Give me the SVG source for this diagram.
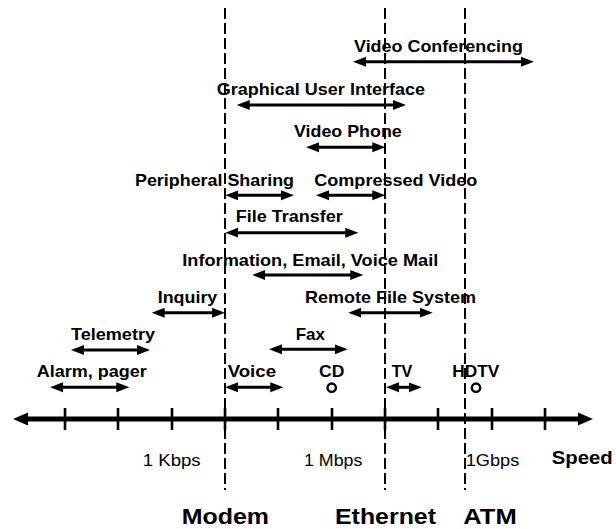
<svg xmlns="http://www.w3.org/2000/svg" width="616" height="529" viewBox="0 0 616 529">
  <style>
    .lbl { font-family: "Liberation Sans", Arial, sans-serif; font-weight: bold; font-size: 17px; fill: #000; }
    .rate { font-family: "Liberation Sans", Arial, sans-serif; font-size: 16.5px; fill: #000; }
    .big { font-family: "Liberation Sans", Arial, sans-serif; font-weight: bold; font-size: 22px; fill: #000; }
    .span { stroke: #000; stroke-width: 3; fill: none; marker-start: url(#head); marker-end: url(#head); }
    .net { stroke: #000; stroke-width: 2; stroke-dasharray: 11 4; fill: none; }
    .tick { stroke: #000; stroke-width: 2.6; }
    .pt { fill: #fff; stroke: #000; stroke-width: 2.4; }
  </style>
  <defs>
    <marker id="head" markerUnits="userSpaceOnUse" markerWidth="14" markerHeight="12" refX="5" refY="6" orient="auto-start-reverse">
      <path d="M0,1 L13,6 L0,11 z" fill="#000"/>
    </marker>
    <marker id="axisHead" markerUnits="userSpaceOnUse" markerWidth="16" markerHeight="14" refX="5" refY="7" orient="auto-start-reverse">
      <path d="M0,0.5 L15,7 L0,13.5 z" fill="#000"/>
    </marker>
  </defs>

  <!-- network boundaries -->
  <g id="boundaries">
    <line class="net" x1="225" y1="8" x2="225" y2="490"/>
    <line class="net" x1="385" y1="8" x2="385" y2="490"/>
    <line class="net" x1="465" y1="8" x2="465" y2="490"/>
  </g>

  <!-- speed axis -->
  <g id="axis">
    <line x1="23" y1="419" x2="583" y2="419" stroke="#000" stroke-width="5" marker-start="url(#axisHead)" marker-end="url(#axisHead)"/>
    <line class="tick" x1="65" y1="408" x2="65" y2="430"/>
    <line class="tick" x1="118" y1="408" x2="118" y2="430"/>
    <line class="tick" x1="172" y1="408" x2="172" y2="430"/>
    <line class="tick" x1="225" y1="408" x2="225" y2="430"/>
    <line class="tick" x1="278" y1="408" x2="278" y2="430"/>
    <line class="tick" x1="332" y1="408" x2="332" y2="430"/>
    <line class="tick" x1="385" y1="408" x2="385" y2="430"/>
    <line class="tick" x1="438" y1="408" x2="438" y2="430"/>
    <line class="tick" x1="492" y1="408" x2="492" y2="430"/>
    <line class="tick" x1="545" y1="408" x2="545" y2="430"/>
    <text class="rate" x="142.7" y="465.5" textLength="58" lengthAdjust="spacingAndGlyphs">1 Kbps</text>
    <text class="rate" x="304" y="465.5" textLength="58.3" lengthAdjust="spacingAndGlyphs">1 Mbps</text>
    <text class="rate" x="465.7" y="465.5" textLength="53.6" lengthAdjust="spacingAndGlyphs">1Gbps</text>
    <text class="lbl" x="551.7" y="464.3" style="font-size:17.5px" textLength="61" lengthAdjust="spacingAndGlyphs">Speed</text>
  </g>

  <!-- network names -->
  <g id="modem"><text class="big" x="181.7" y="524" textLength="87.3" lengthAdjust="spacingAndGlyphs">Modem</text></g>
  <g id="ethernet"><text class="big" x="335" y="524" textLength="101" lengthAdjust="spacingAndGlyphs">Ethernet</text></g>
  <g id="atm"><text class="big" x="463.3" y="524" textLength="53.4" lengthAdjust="spacingAndGlyphs">ATM</text></g>

  <!-- applications -->
  <g id="video-conferencing">
    <text class="lbl" x="354" y="52" textLength="169" lengthAdjust="spacingAndGlyphs">Video Conferencing</text>
    <line class="span" x1="361" y1="61.7" x2="526" y2="61.7"/>
  </g>
  <g id="gui">
    <text class="lbl" x="216.7" y="95" textLength="208.3" lengthAdjust="spacingAndGlyphs">Graphical User Interface</text>
    <line class="span" x1="244.7" y1="105" x2="398" y2="105"/>
  </g>
  <g id="video-phone">
    <text class="lbl" x="294" y="137.3" textLength="107.7" lengthAdjust="spacingAndGlyphs">Video Phone</text>
    <line class="span" x1="314" y1="147.3" x2="377.3" y2="147.3"/>
  </g>
  <g id="peripheral-sharing">
    <text class="lbl" x="135" y="186" textLength="159" lengthAdjust="spacingAndGlyphs">Peripheral Sharing</text>
    <line class="span" x1="233.3" y1="195.3" x2="286" y2="195.3"/>
  </g>
  <g id="compressed-video">
    <text class="lbl" x="314.3" y="186" textLength="163" lengthAdjust="spacingAndGlyphs">Compressed Video</text>
    <line class="span" x1="324" y1="195.3" x2="377.3" y2="195.3"/>
  </g>
  <g id="file-transfer">
    <text class="lbl" x="235.7" y="222.3" textLength="107" lengthAdjust="spacingAndGlyphs">File Transfer</text>
    <line class="span" x1="233.3" y1="232.7" x2="350.3" y2="232.7"/>
  </g>
  <g id="information">
    <text class="lbl" x="182.3" y="266" textLength="256" lengthAdjust="spacingAndGlyphs">Information, Email, Voice Mail</text>
    <line class="span" x1="260.3" y1="275" x2="355.3" y2="275"/>
  </g>
  <g id="inquiry">
    <text class="lbl" x="157.7" y="303.3" textLength="59.6" lengthAdjust="spacingAndGlyphs">Inquiry</text>
    <line class="span" x1="159.7" y1="312.7" x2="217" y2="312.7"/>
  </g>
  <g id="remote-file-system">
    <text class="lbl" x="305" y="302.7" textLength="171" lengthAdjust="spacingAndGlyphs">Remote File System</text>
    <line class="span" x1="356.3" y1="312.7" x2="424.7" y2="312.7"/>
  </g>
  <g id="telemetry">
    <text class="lbl" x="71" y="340" textLength="84" lengthAdjust="spacingAndGlyphs">Telemetry</text>
    <line class="span" x1="79" y1="350" x2="142" y2="350"/>
  </g>
  <g id="fax">
    <text class="lbl" x="295.7" y="340" textLength="29.3" lengthAdjust="spacingAndGlyphs">Fax</text>
    <line class="span" x1="277" y1="349.3" x2="339.7" y2="349.3"/>
  </g>
  <g id="alarm-pager">
    <text class="lbl" x="36.7" y="377.3" textLength="110" lengthAdjust="spacingAndGlyphs">Alarm, pager</text>
    <line class="span" x1="58" y1="387.3" x2="121.3" y2="387.3"/>
  </g>
  <g id="voice">
    <text class="lbl" x="227.7" y="377.3" textLength="48.3" lengthAdjust="spacingAndGlyphs">Voice</text>
    <line class="span" x1="233" y1="387.3" x2="275.3" y2="387.3"/>
  </g>
  <g id="cd">
    <text class="lbl" x="319" y="377.3" textLength="25.3" lengthAdjust="spacingAndGlyphs">CD</text>
    <circle class="pt" cx="331.7" cy="387.7" r="4.2"/>
  </g>
  <g id="tv">
    <text class="lbl" x="391.7" y="377.3" textLength="20.6" lengthAdjust="spacingAndGlyphs">TV</text>
    <line class="span" x1="394" y1="387.3" x2="413.7" y2="387.3"/>
  </g>
  <g id="hdtv">
    <text class="lbl" x="452.3" y="377.3" textLength="47" lengthAdjust="spacingAndGlyphs">HDTV</text>
    <circle class="pt" cx="476" cy="387.7" r="4.2"/>
  </g>
</svg>
